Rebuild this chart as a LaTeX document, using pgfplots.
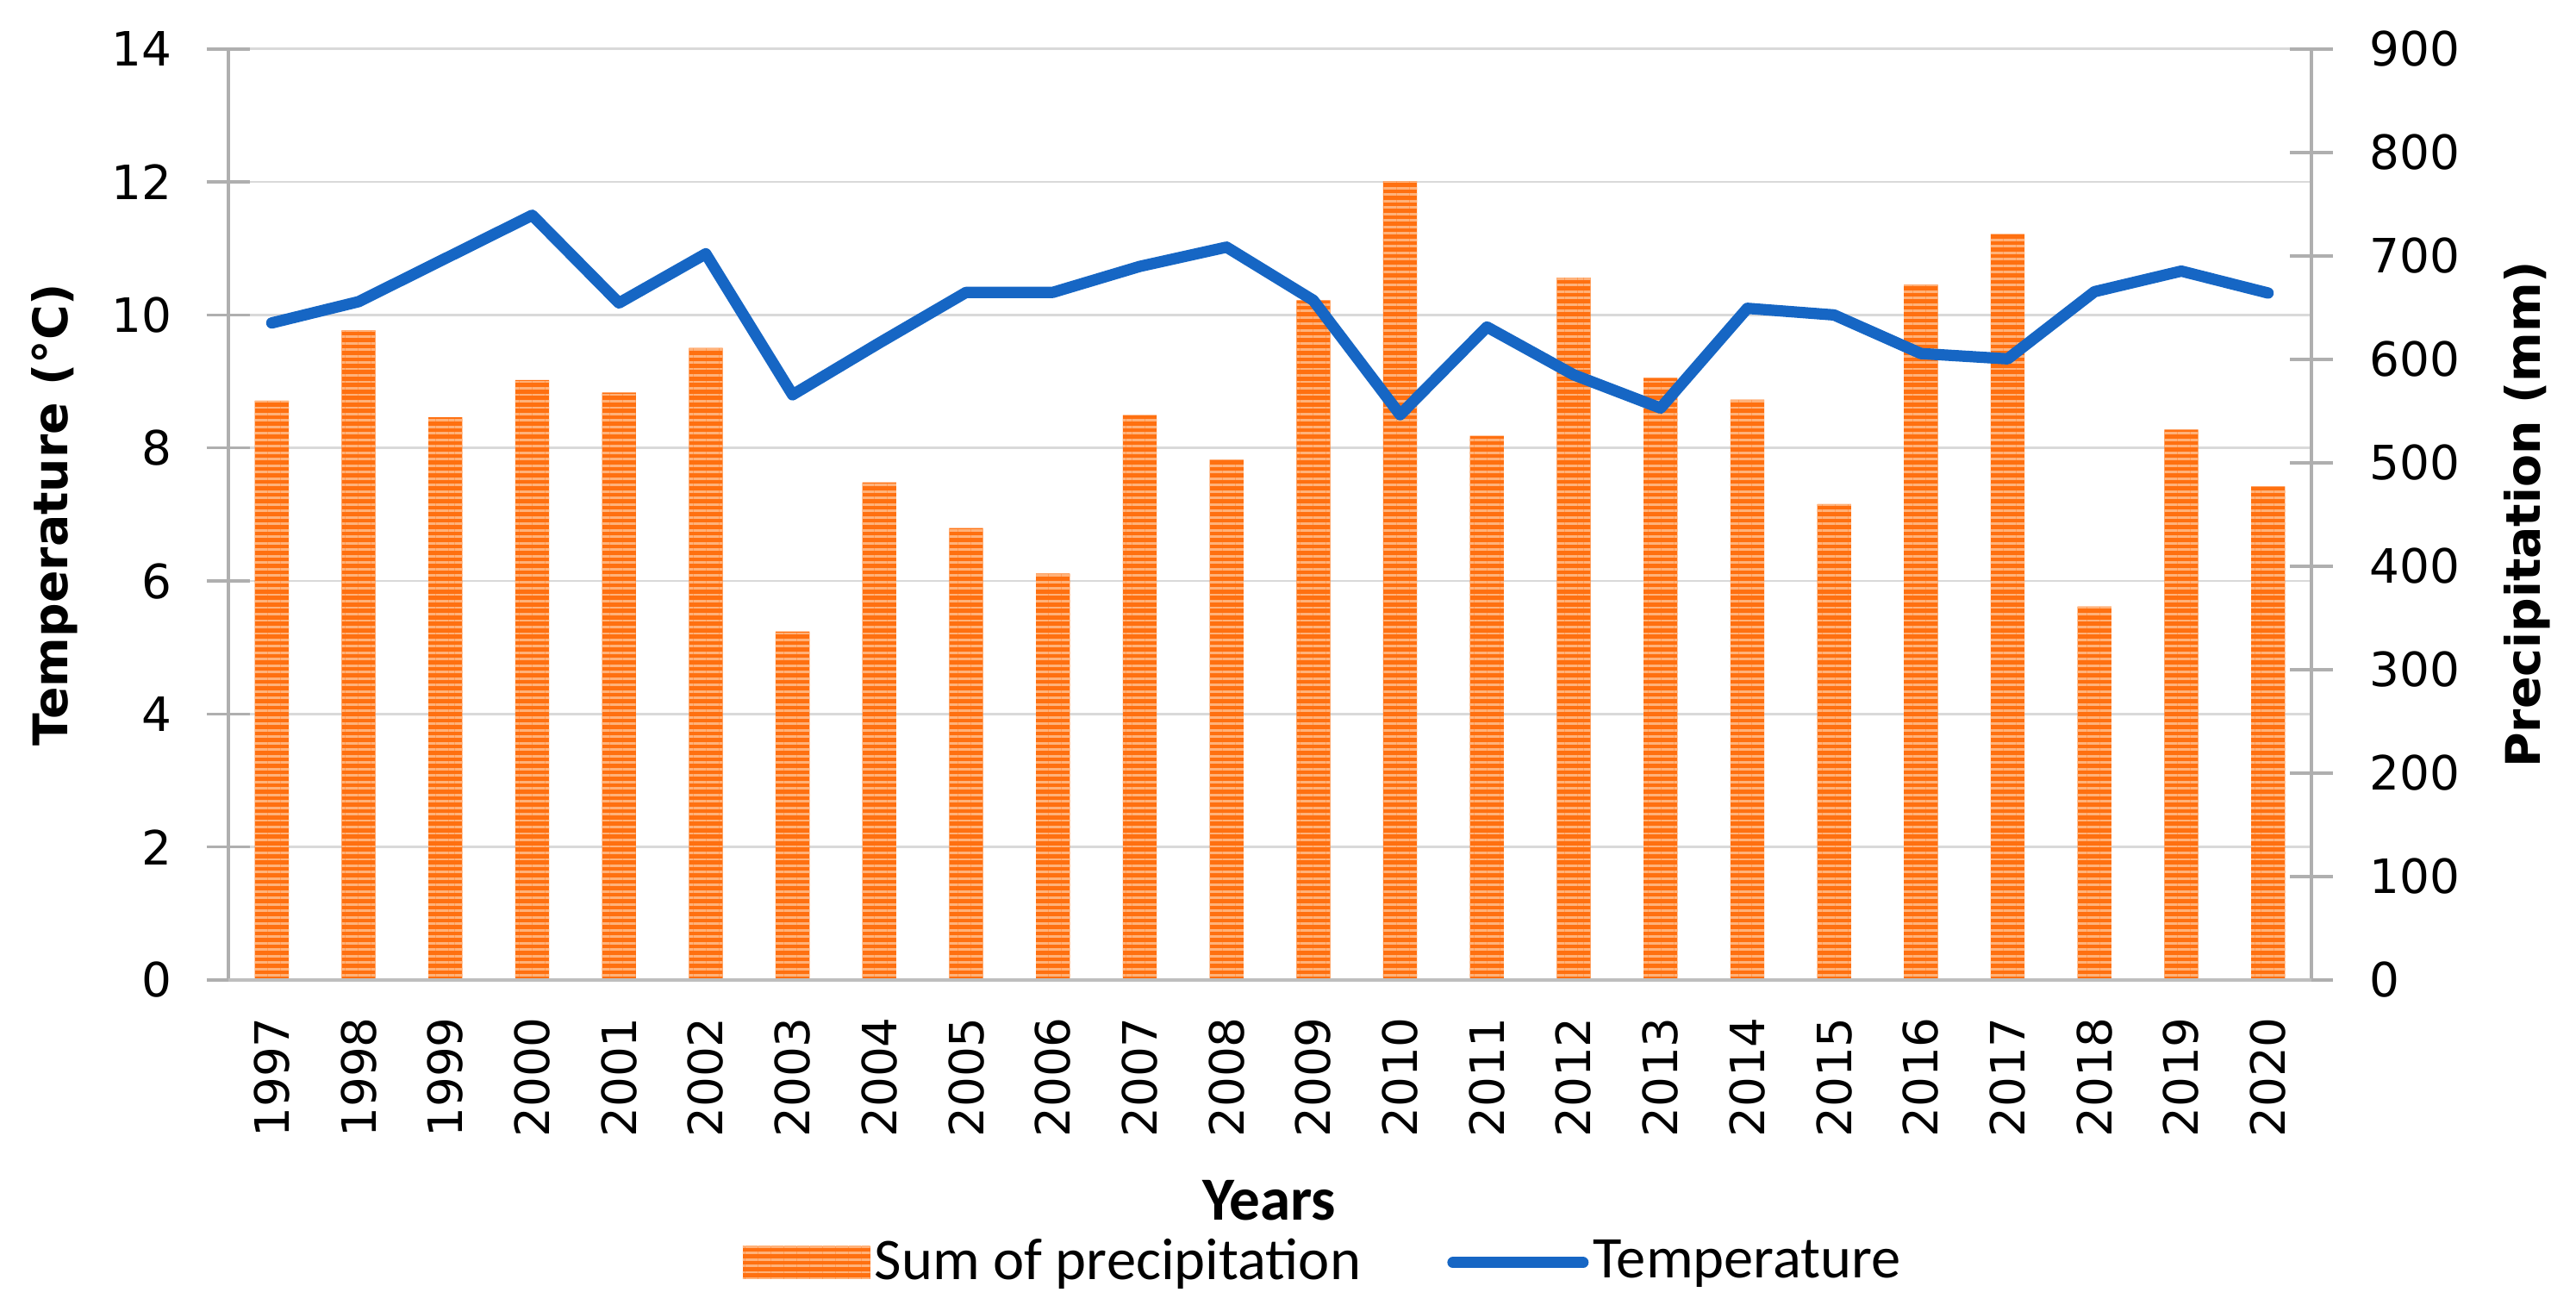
\documentclass[border=0pt]{standalone}
\usepackage{fontspec}
\setmainfont{DejaVu Sans}
\newfontfamily\calfont{Carlito}
\usepackage{pgfplots}
\pgfplotsset{compat=1.18}
\usetikzlibrary{patterns.meta}
\definecolor{barD}{RGB}{255,112,16}
\definecolor{barL}{RGB}{255,178,122}
\definecolor{lineB}{RGB}{22,102,196}
\definecolor{gridG}{RGB}{217,217,217}
\definecolor{axG}{RGB}{175,175,175}
\definecolor{axB}{RGB}{190,190,190}

\pgfplotsset{
  common/.style={scale only axis, width=458.5pt, height=204.9pt,
    at={(50.27pt,72.84pt)}, anchor=south west, xmin=-0.5, xmax=23.5,
    /pgf/number format/assume math mode=true,
    tick label style={font=\fontsize{10.4}{12}\selectfont}},
}

\begin{document}
\begin{tikzpicture}
\useasboundingbox (0,0) rectangle (567pt,288.52pt);

% Axis 1: temperature scale, grid
\begin{axis}[common, ymin=0, ymax=14, ytick={0,2,...,14},
  axis x line=none, axis y line*=left,
  axis line style={-, draw=axG, line width=0.65pt},
  ymajorgrids, grid style={draw=gridG, line width=0.5pt},
  tick align=center, major tick length=9.5pt,
  ytick style={draw=axG, line width=0.65pt},
  yticklabel style={inner sep=0pt}, yticklabel shift=7.5pt,
  ylabel={Temperature (°C)},
  every axis y label/.style={at={(axis description cs:-0.0835,0.5)}, anchor=center, rotate=90, font=\bfseries\fontsize{10.5}{12}\selectfont}]
\addplot[draw=none, forget plot] coordinates {(0,0)};
\end{axis}

% Axis 2: precipitation bars
\begin{axis}[common, ymin=0, ymax=900, ytick={0,100,...,900},
  axis x line=none, axis y line*=right,
  axis line style={-, draw=axG, line width=0.65pt},
  tick align=center, major tick length=9.5pt,
  ytick style={draw=axG, line width=0.65pt},
  yticklabel style={inner sep=0pt}, yticklabel shift=7.9pt,
  ylabel={Precipitation (mm)},
  every axis y label/.style={at={(axis description cs:1.1035,0.5)}, anchor=center, rotate=90, font=\bfseries\fontsize{10.5}{12}\selectfont}]
\addplot[ybar, bar width=0.39, fill=barD, draw=none,
  postaction={pattern={Lines[angle=0,distance=1.42pt,line width=0.55pt]}, pattern color=barL}]
  coordinates {
  (0,560) (1,628) (2,544) (3,580) (4,568) (5,611) (6,337) (7,481)
  (8,437) (9,393) (10,546) (11,503) (12,657) (13,772) (14,526) (15,679)
  (16,582) (17,561) (18,460) (19,672) (20,721) (21,361) (22,532) (23,477)};
\end{axis}

% Axis 3: temperature line, x labels, legend
\begin{axis}[common, ymin=0, ymax=14,
  axis y line=none, axis x line*=bottom,
  x axis line style={-, draw=axB, line width=0.9pt},
  xtick={0,1,...,23},
  xticklabels={1997,1998,1999,2000,2001,2002,2003,2004,2005,2006,2007,2008,2009,2010,2011,2012,2013,2014,2015,2016,2017,2018,2019,2020},
  xtick style={draw=none}, major tick length=0pt,
  xticklabel style={rotate=90, anchor=east, inner sep=0pt}, xticklabel shift=8pt,
  xlabel={Years},
  every axis x label/.style={at={(axis description cs:0.4997,-0.237)}, anchor=center, inner sep=0pt, font=\calfont\bfseries\fontsize{13.5}{16}\selectfont},
  legend style={at={(axis description cs:0.526,-0.3035)}, anchor=center, draw=none, fill=none,
    font=\calfont\fontsize{13}{15}\selectfont,
    /tikz/every even column/.append style={column sep=18pt},
    nodes={inner sep=1pt}},
  legend columns=2, legend cell align=left]
\addlegendimage{draw=none, fill=none, legend image code/.code={
  \fill[barD, draw=none] (0pt,-3.6pt) rectangle (28pt,3.6pt);
  \fill[draw=none, pattern={Lines[angle=0,distance=1.42pt,line width=0.55pt]}, pattern color=barL] (0pt,-3.6pt) rectangle (28pt,3.6pt);}}
\addlegendentry{Sum of precipitation}
\addplot[lineB, line width=2.5pt, line join=round, line cap=round,
  legend image code/.code={\draw[lineB, line width=2.5pt, line cap=round] (1.2pt,0pt) -- (29.8pt,0pt);}]
  coordinates {
  (0,9.88) (1,10.2) (2,10.85) (3,11.5) (4,10.18) (5,10.92) (6,8.8) (7,9.58)
  (8,10.34) (9,10.34) (10,10.73) (11,11.02) (12,10.22) (13,8.5) (14,9.82) (15,9.1)
  (16,8.6) (17,10.1) (18,10.0) (19,9.42) (20,9.34) (21,10.35) (22,10.66) (23,10.33)};
\addlegendentry{Temperature}
\end{axis}
\end{tikzpicture}
\end{document}
